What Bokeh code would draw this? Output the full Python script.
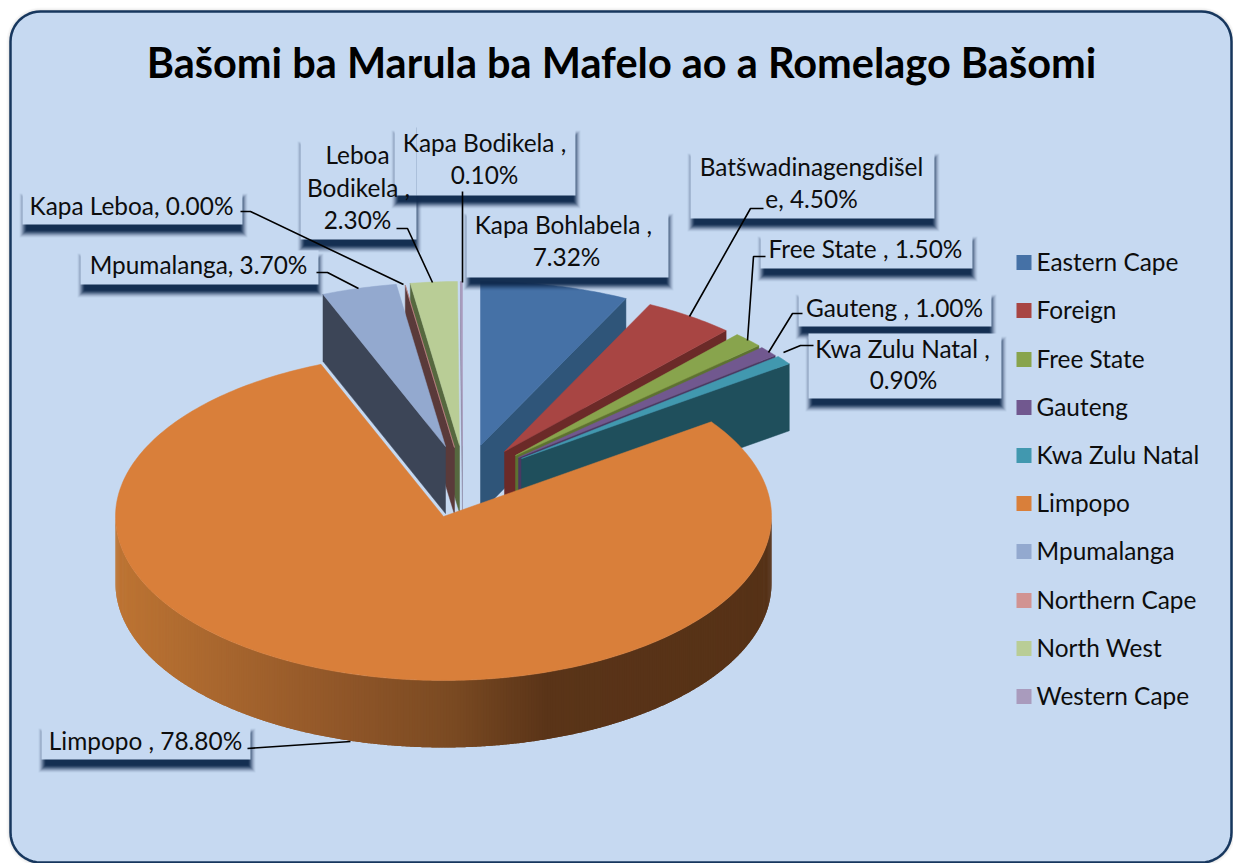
import math
from bokeh.plotting import figure
from bokeh.models import Range1d
from bokeh.core.properties import value
from bokeh.embed import file_html
from bokeh.resources import INLINE

# ---------- data ----------
title = "Bašomi ba Marula ba Mafelo ao a Romelago Bašomi"
categories = ["Eastern Cape", "Foreign", "Free State", "Gauteng", "Kwa Zulu Natal",
              "Limpopo", "Mpumalanga", "Northern Cape", "North West", "Western Cape"]
percentages = [7.32, 4.50, 1.50, 1.00, 0.90, 78.80, 3.70, 0.00, 2.30, 0.10]
label_kapa_bohlabela = ["Kapa Bohlabela  ,", "7.32%"]
label_foreign = ["Batšwadinagengdišel", "e, 4.50%"]
label_free_state = ["Free State , 1.50%"]
label_gauteng = ["Gauteng , 1.00%"]
label_kzn = ["Kwa Zulu Natal ,", "0.90%"]
label_limpopo = ["Limpopo , 78.80%"]
label_mpumalanga = ["Mpumalanga, 3.70%"]
label_kapa_leboa = ["Kapa Leboa, 0.00%"]
label_leboa_bodikela = ["Leboa", "Bodikela ,", "2.30%"]
label_kapa_bodikela = ["Kapa Bodikela ,", "0.10%"]

# ---------- styles / layout ----------
top_colors = ["#4571a6", "#a84543", "#88a44d", "#71588f", "#4198af",
              "#d97f3a", "#93a9cf", "#d19392", "#b9cd96", "#a99bbd"]
wall_colors = ["#2f5579", "#6b2a28", "#5d7231", "#4a3862", "#1f4f5c",
               "#5c3518", "#3c4557", "#5a3a3a", "#56683f", "#8d88a4"]
explode = [(37, -71), (61, -65), (72, -61), (75, -59), (78, -58),
           (0, 0), (2, -70), (11, -69), (16, -71), (19, -71)]
paint_order = [9, 8, 7, 6, 0, 1, 2, 3, 4, 5]
CX, CY, A, B, DEPTH = 443, 516, 328, 164, 67
BG, NAVY = "#c6d9f1", "#17375e"
SHADOW = "#0f2a4d"
FONT = value("Lato")
W, H = 1233, 863

p = figure(width=W, height=H, output_backend="svg", toolbar_location=None,
           x_range=Range1d(0, W), y_range=Range1d(H, 0),
           x_axis_location=None, y_axis_location=None, min_border=0)
p.grid.visible = False
p.outline_line_color = None
p.background_fill_color = "white"
p.border_fill_color = "white"


def rounded(x0, y0, x1, y1, r):
    xs, ys = [], []
    for cx, cy, start in [(x1 - r, y0 + r, -90), (x1 - r, y1 - r, 0), (x0 + r, y1 - r, 90), (x0 + r, y0 + r, 180)]:
        for k in range(13):
            a = math.radians(start + k * 7.5)
            xs.append(cx + r * math.cos(a))
            ys.append(cy + r * math.sin(a))
    return xs, ys


# card
for grow, alpha in [(4, 0.04), (3, 0.05), (2, 0.07), (1, 0.1)]:
    xs, ys = rounded(10 - grow, 11 - grow, 1231 + grow, 862 + grow, 30 + grow)
    p.patch(xs, ys, fill_color="#7f7f7f", fill_alpha=alpha, line_color=None)
xs, ys = rounded(10, 11, 1231, 862, 30)
p.patch(xs, ys, fill_color=BG, line_color=NAVY, line_width=2.5)


def ell(t, ox=0.0, oy=0.0, drop=0.0):
    r = math.radians(t)
    return CX + ox + A * math.sin(r), CY + oy - B * math.cos(r) + drop


total = sum(percentages)
starts, ends = [], []
acc = 0.0
for v in percentages:
    starts.append(acc)
    acc += v / total * 360
    ends.append(acc)

# pie slices, back to front
for i in paint_order:
    t0, t1 = starts[i], ends[i]
    ox, oy = explode[i]
    span = t1 - t0
    if span < 180:
        edge = None
        if math.sin(math.radians(t1)) > 0 and math.sin(math.radians(t0)) >= 0:
            edge = t1
        elif math.sin(math.radians(t0)) < 0:
            edge = t0
        if edge is not None:
            ex, ey = ell(edge, ox, oy)
            ax, ay = CX + ox, CY + oy
            p.patch([ex, ax, ax, ex], [ey, ay, ay + DEPTH, ey + DEPTH],
                    fill_color=wall_colors[i], line_color=wall_colors[i], line_width=0.5)
    if i == 5:
        # rim with its horizontal shading, painted left to right with overlap
        stops = [(115, (189, 116, 51)), (350, (142, 85, 40)), (450, (122, 74, 34)),
                 (545, (90, 52, 24)), (771, (86, 50, 23))]

        def shade(x):
            for (x0, c0), (x1, c1) in zip(stops, stops[1:]):
                if x <= x1:
                    f = max(0, (x - x0) / (x1 - x0))
                    return "#%02x%02x%02x" % tuple(round(a + (b - a) * f) for a, b in zip(c0, c1))
            return "#%02x%02x%02x" % stops[-1][1]
        n = 720
        t_grid = [270 - 180 * k / n for k in range(n + 1)]
        rxs, rys, rcs = [], [], []
        for k in range(0, n, 2):
            arc = [ell(t) for t in t_grid[k:min(k + 5, n + 1)]]
            rxs.append([a[0] for a in arc] + [a[0] for a in reversed(arc)])
            rys.append([a[1] for a in arc] + [a[1] + DEPTH for a in reversed(arc)])
            rcs.append(shade(arc[0][0]))
        p.patches(rxs, rys, fill_color=rcs, line_color=None)
    n = max(2, int(span) + 2)
    arc = [ell(t0 + span * k / (n - 1), ox, oy) for k in range(n)]
    p.patch([CX + ox] + [a[0] for a in arc], [CY + oy] + [a[1] for a in arc],
            fill_color=top_colors[i], line_color=top_colors[i], line_width=0.5)


# labels
def box(x0, y0, x1, y1):
    for g, al in [(5, 0.06), (4, 0.1), (3, 0.15), (2, 0.22), (1, 0.3), (0, 0.4), (-1, 0.55), (-2, 0.7)]:
        p.quad(left=x0 + 2 - g, right=x1 + g, top=y0 + 8 - g, bottom=y1 + 8 + g,
               fill_color=SHADOW, fill_alpha=al, line_color=None)
    p.quad(left=x0, right=x1, top=y0, bottom=y1, fill_color=BG, line_color=None)


boxes = [(300, 138, 416, 239), (394, 127, 575, 195), (22, 190, 242, 224), (80, 250, 318, 284),
         (466, 210, 668, 277), (690, 150, 934, 218), (760, 233, 972, 268), (798, 291, 991, 326),
         (808, 333, 1001, 398), (41, 725, 250, 759)]
for b in boxes:
    box(*b)
p.line([416, 416], [127, 195], line_color=NAVY, line_alpha=0.15, line_width=1)

leaders = [
    ([240, 250, 403], [211, 211, 284]),
    ([316, 327, 358], [272, 272, 288]),
    ([396, 407, 432], [228, 228, 282]),
    ([462, 462], [191, 282]),
    ([763, 750, 689], [208, 208, 316]),
    ([765, 753, 747], [256, 256, 340]),
    ([802, 792, 768], [313, 313, 352]),
    ([813, 800, 783], [345, 345, 352]),
    ([247, 350], [748, 741]),
]
for lx, ly in leaders:
    p.line(lx, ly, line_color="black", line_width=1.6)

text_rows = [
    (label_kapa_bohlabela, [(566, 224), (566, 256)]),
    (label_foreign, [(811, 166), (811, 198)]),
    (label_free_state, [(865, 248)]),
    (label_gauteng, [(894, 307)]),
    (label_kzn, [(902, 348), (903, 379)]),
    (label_limpopo, [(145, 740)]),
    (label_mpumalanga, [(198, 264)]),
    (label_kapa_leboa, [(131, 205)]),
    (label_leboa_bodikela, [(357, 154), (358, 187), (357, 219)]),
    (label_kapa_bodikela, [(484, 142), (484, 174)]),
]
for lines, pos in text_rows:
    p.text([q[0] for q in pos], [q[1] for q in pos], text=lines, text_font=FONT,
           text_font_size="24.4px", text_color="#0d0d0d", text_align="center", text_baseline="middle")

# legend
leg_y = [262, 310, 359, 407, 455, 503, 551, 600, 648, 696]
text_y = [y - 1 for y in leg_y]
p.rect([1023.5] * 10, leg_y, width=15, height=15, fill_color=top_colors, line_color=None)
p.text([1036] * 10, text_y, text=categories, text_font=FONT, text_font_size="24.4px",
       text_color="#0d0d0d", text_align="left", text_baseline="middle")

# title
p.text([621], [61], text=[title], text_font=FONT, text_font_size="41.5px", text_font_style="bold",
       text_color="black", text_align="center", text_baseline="middle")

open("out.html", "w").write(file_html(p, INLINE))
